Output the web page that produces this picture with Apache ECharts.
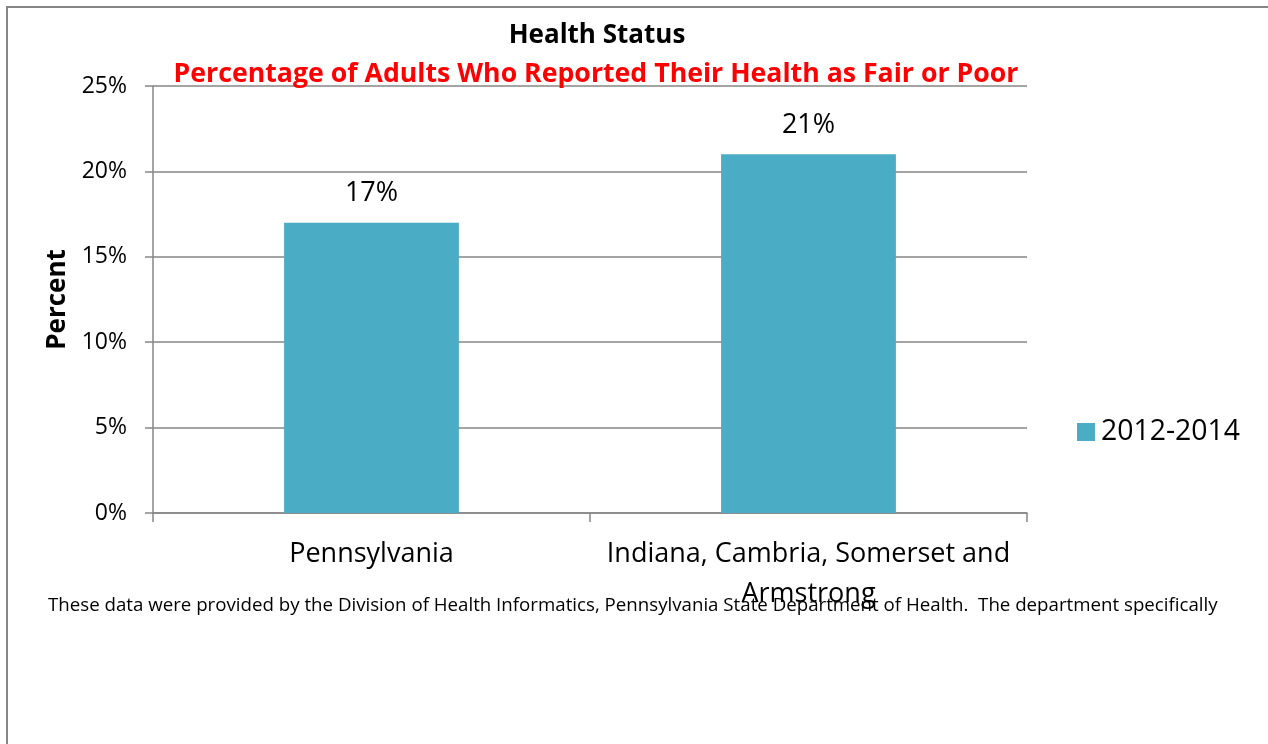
<!DOCTYPE html>
<html>
<head>
<meta charset="utf-8">
<script src="https://cdn.jsdelivr.net/npm/echarts@6/dist/echarts.min.js"></script>
<style>
html,body{margin:0;padding:0;background:#fff;}
#chart{width:1268px;height:744px;}
</style>
</head>
<body>
<div id="chart"></div>
<script>
const categories = ['Pennsylvania', 'Indiana, Cambria, Somerset and Armstrong'];
const seriesName = '2012-2014';
const values = [17, 21];
const yTicks = {min: 0, max: 25, interval: 5};
const titleText = 'Health Status';
const subtitleText = 'Percentage of Adults Who Reported Their Health as Fair or Poor';
const footnote = 'These data were provided by the Division of Health Informatics, Pennsylvania State Department of Health.  The department specifically';

const FONT = '"Open Sans", "Noto Sans", sans-serif';
const chart = echarts.init(document.getElementById('chart'));
chart.setOption({
  animation: false,
  textStyle: {fontFamily: FONT},
  title: [
    {text: titleText, left: 592, top: 18, textAlign: 'center',
     textStyle: {fontFamily: FONT, fontSize: 26, fontWeight: 'bold', color: '#000'}},
    {text: subtitleText, left: 591, top: 56, textAlign: 'center',
     textStyle: {fontFamily: FONT, fontSize: 26.7, fontWeight: 'bold', color: '#ff0000'}}
  ],
  legend: {
    left: 1077, top: 418, orient: 'vertical', padding: 0,
    icon: 'rect', itemWidth: 18, itemHeight: 18, itemGap: 6,
    textStyle: {fontFamily: FONT, fontSize: 28.4, color: '#000', padding: [0,0,0,1]},
    data: [seriesName]
  },
  grid: {left: 153, top: 86, right: 241, bottom: 231, containLabel: false},
  xAxis: {
    type: 'category', data: categories,
    axisLine: {lineStyle: {color: '#868686', width: 1.5}},
    axisTick: {show: true, length: 9, lineStyle: {color: '#868686', width: 1.5}},
    axisLabel: {
      interval: 0,
      fontFamily: FONT, fontSize: 27, color: '#000', margin: 21, lineHeight: 40,
      formatter: v => v.replace(' and ', ' and\n')
    }
  },
  yAxis: {
    type: 'value', min: yTicks.min, max: yTicks.max, interval: yTicks.interval,
    name: 'Percent', nameLocation: 'middle', nameRotate: 90, nameGap: 82,
    nameTextStyle: {fontFamily: FONT, fontSize: 26, fontWeight: 'bold', color: '#000'},
    axisLine: {show: true, lineStyle: {color: '#868686', width: 1.5}},
    axisTick: {show: true, length: 8, lineStyle: {color: '#868686', width: 1.5}},
    axisLabel: {fontFamily: FONT, fontSize: 23, color: '#000', margin: 26, formatter: '{value}%'},
    splitLine: {lineStyle: {color: '#868686', width: 1.5}}
  },
  series: [{
    name: seriesName, type: 'bar', data: values, barWidth: '40%',
    itemStyle: {color: '#4BACC6'},
    label: {show: true, position: 'top', distance: 16, formatter: '{c}%',
            fontFamily: FONT, fontSize: 27, color: '#000'}
  }],
  graphic: [
    {type: 'rect', shape: {x: 7, y: 7, width: 1300, height: 800}, silent: true,
     style: {fill: 'none', stroke: '#868686', lineWidth: 2}, z: -10},
    {type: 'text', left: 48, top: 596, silent: true, z: 10,
     style: {text: footnote, font: '18.7px ' + FONT, fill: '#000'}}
  ]
});
</script>
</body>
</html>
